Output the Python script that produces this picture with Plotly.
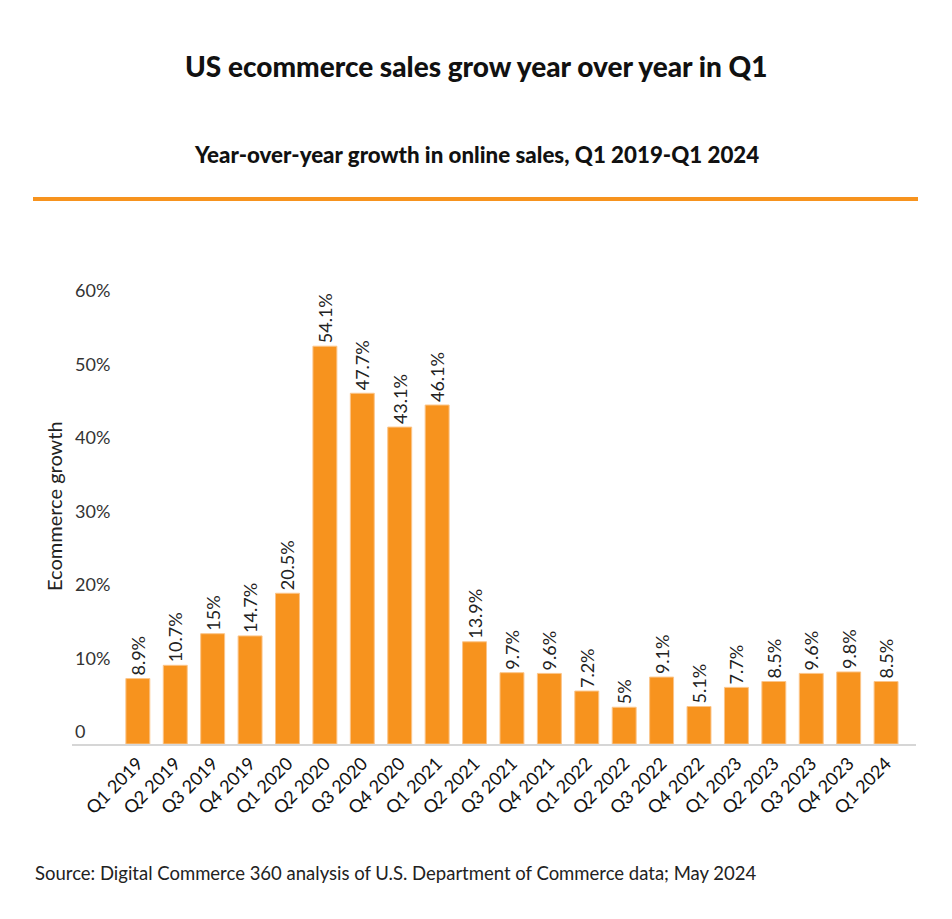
import plotly.graph_objects as go

categories = ["Q1 2019", "Q2 2019", "Q3 2019", "Q4 2019",
              "Q1 2020", "Q2 2020", "Q3 2020", "Q4 2020",
              "Q1 2021", "Q2 2021", "Q3 2021", "Q4 2021",
              "Q1 2022", "Q2 2022", "Q3 2022", "Q4 2022",
              "Q1 2023", "Q2 2023", "Q3 2023", "Q4 2023",
              "Q1 2024"]
growth = [8.9, 10.7, 15, 14.7, 20.5, 54.1, 47.7, 43.1, 46.1, 13.9, 9.7,
          9.6, 7.2, 5, 9.1, 5.1, 7.7, 8.5, 9.6, 9.8, 8.5]
labels = [f"{v:g}%" for v in growth]
y_ticks = [0, 10, 20, 30, 40, 50, 60]
y_ticktext = ["0", "10%", "20%", "30%", "40%", "50%", "60%"]

ORANGE = "#F7931E"
FONT = "Lato, Open Sans, sans-serif"

# page offset (body margin) of 8px
OFF = 8
YMAX = 68
L, R, B = 72 - OFF, 916 - OFF, 744 - OFF
T = round(744 - YMAX * 7.35) - OFF
W, H = 952, 919
PW, PH = R - L, B - T


def px(x):
    return (x - OFF - L) / PW


def py(y):
    return (B - (y - OFF)) / PH


fig = go.Figure(go.Bar(
    x=list(range(len(categories))), y=growth, text=labels,
    textposition="outside", textangle=-90, constraintext="none", cliponaxis=False,
    textfont=dict(family=FONT, size=18, color="#222222"),
    marker=dict(color=ORANGE, line=dict(color="#FBC58A", width=1)),
    width=0.64, hoverinfo="x+y",
))

fig.update_layout(
    width=W, height=H,
    margin=dict(l=L, r=W - R, t=T, b=H - B),
    paper_bgcolor="white", plot_bgcolor="white",
    showlegend=False,
    font=dict(family=FONT, size=18, color="#222222"),
    xaxis=dict(
        tickmode="array", tickvals=list(range(len(categories))), ticktext=categories,
        tickangle=-45, range=[-1.76, 20.8], showgrid=False, zeroline=False,
        showline=True, linecolor="#D6D6D6", linewidth=2, ticks="",
        tickfont=dict(family=FONT, size=18, color="#111111"),
    ),
    yaxis=dict(
        range=[0, YMAX], tickmode="array", tickvals=y_ticks, ticktext=y_ticktext,
        showgrid=False, zeroline=False, showline=False, ticks="",
        ticklabelposition="inside", ticklabelshift=-12, ticklabelstandoff=0,
        tickfont=dict(family=FONT, size=18, color="#333333"),
    ),
    annotations=[
        dict(text="US ecommerce sales grow year over year in Q1", xref="paper", yref="paper",
             x=px(476), y=py(66), xanchor="center", yanchor="middle",
             showarrow=False, font=dict(family=FONT, size=28, weight=900, color="#111111")),
        dict(text="Year-over-year growth in online sales, Q1 2019-Q1 2024", xref="paper", yref="paper",
             x=px(476), y=py(154), xanchor="center", yanchor="middle",
             showarrow=False, font=dict(family=FONT, size=22.3, weight=900, color="#111111")),
        dict(text="Ecommerce growth", xref="paper", yref="paper", textangle=-90,
             x=px(54), y=py(506), xanchor="center", yanchor="middle",
             showarrow=False, font=dict(family=FONT, size=20, color="#222222")),
        dict(text="Source: Digital Commerce 360 analysis of U.S. Department of Commerce data; May 2024",
             xref="paper", yref="paper", x=px(33), y=py(873),
             xanchor="left", yanchor="middle", showarrow=False,
             font=dict(family=FONT, size=18.5, color="#222222")),
    ],
    shapes=[
        dict(type="line", xref="paper", yref="paper",
             x0=px(33), x1=px(918), y0=py(199), y1=py(199),
             line=dict(color=ORANGE, width=4)),
    ],
)

fig.write_html("out.html")
